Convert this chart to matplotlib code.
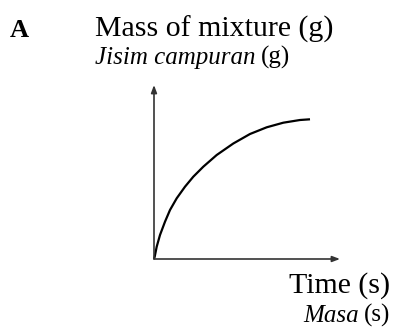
import matplotlib
matplotlib.use("Agg")
import matplotlib.pyplot as plt

# Data (schematic curve, arbitrary units)
time_s = [0, 0.7, 2.7, 6, 11, 16, 22.7, 31, 39.3, 49.3, 62.7, 79.3, 96, 112.7, 129.3, 146, 156]
mass_g = [0, 2.3, 12.3, 24, 37.3, 49, 60.7, 72.3, 82.3, 92.3, 104, 115.5, 125, 131.7, 136.3, 139, 139.7]

option_label = "A"
y_label_en = "Mass of mixture (g)"
y_label_ms = "Jisim campuran"
x_label_en = "Time (s)"
x_label_ms = "Masa"
unit_g = "(g)"
unit_s = "(s)"

W, H = 394, 327
fig = plt.figure(figsize=(W / 100, H / 100), dpi=100)
fig.patch.set_facecolor("white")


def fx(px):
    return px / W


def fy(py):
    return 1 - py / H


serif = ["Liberation Serif", "DejaVu Serif"]

# axes area: origin at (154,259), x to 340, y up to 85
ax = fig.add_axes([fx(154), fy(259), (340 - 154) / W, (259 - 85) / H])
ax.set_xlim(0, 186)
ax.set_ylim(0, 174)
for s in ax.spines.values():
    s.set_visible(False)
ax.set_xticks([])
ax.set_yticks([])
ax.patch.set_alpha(0)

axis_color = "#333333"
arrow = dict(arrowstyle="-|>,head_length=0.45,head_width=0.17", color=axis_color,
             lw=1.2, shrinkA=0, shrinkB=0)
ax.annotate("", xy=(1, 0), xytext=(0, 0), xycoords="axes fraction",
            textcoords="axes fraction", arrowprops=arrow, annotation_clip=False)
ax.annotate("", xy=(0, 1), xytext=(0, 0), xycoords="axes fraction",
            textcoords="axes fraction", arrowprops=arrow, annotation_clip=False)

ax.plot(time_s, mass_g, color="black", lw=1.6, solid_capstyle="butt",
        solid_joinstyle="round", clip_on=False)

renderer = fig.canvas.get_renderer()
big = 21.5
small = 18

# Texts
fig.text(fx(10), fy(36.7), option_label, family=serif, fontweight="bold",
         fontsize=19, va="baseline", ha="left")
fig.text(fx(95), fy(36.7), y_label_en, family=serif, fontsize=big,
         va="baseline", ha="left")
t1 = fig.text(fx(95), fy(64), y_label_ms, family=serif, style="italic",
              fontsize=small, va="baseline", ha="left")
bb = t1.get_window_extent(renderer)
fig.text(fx(bb.x1 + 5), fy(64), unit_g, family=serif, fontsize=small,
         va="baseline", ha="left")

fig.text(fx(390), fy(292.5), x_label_en, family=serif, fontsize=big,
         va="baseline", ha="right")
t2 = fig.text(fx(390), fy(321.5), unit_s, family=serif, fontsize=small,
              va="baseline", ha="right")
bb2 = t2.get_window_extent(renderer)
fig.text(fx(bb2.x0 - 5), fy(321.5), x_label_ms, family=serif, style="italic",
         fontsize=small, va="baseline", ha="right")

fig.savefig("out.png", dpi=100, facecolor="white")
